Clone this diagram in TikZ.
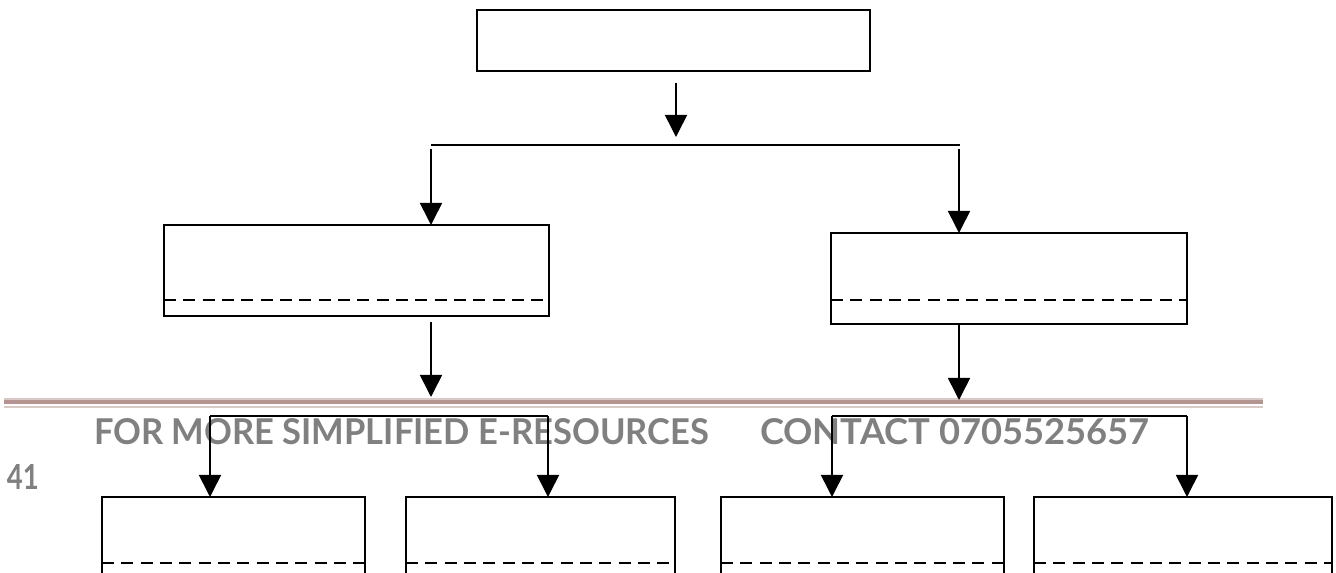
\documentclass[tikz,border=0pt]{standalone}
\usepackage{fontspec}
\usepackage{graphicx}
\usetikzlibrary{arrows.meta}
\newfontfamily\wmfont{Lato}
\definecolor{wmgray}{RGB}{128,128,128}
\definecolor{rulebrown}{RGB}{180,148,144}
\definecolor{rulelight}{RGB}{216,200,198}
\begin{document}
\begin{tikzpicture}[x=0.75pt,y=-0.75pt,
  box/.style={draw=black,line width=1.2pt,rectangle,inner sep=0pt,outer sep=0pt},
  dashline/.style={draw=black,line width=1.2pt,dash pattern=on 9pt off 5.5pt},
  conn/.style={draw=black,line width=1.2pt},
  arr/.style={conn,-{Triangle[width=16.5pt,length=16.5pt]}},
  wm/.style={inner sep=0pt,outer sep=0pt,anchor=south west,text=wmgray}
]
\useasboundingbox (0,0) rectangle (1336,573);
\clip (0,0) rectangle (1336,573);

% watermark / page elements
\fill[rulelight] (4,398.5) rectangle (1263,399.8);
\fill[rulebrown] (4,400) rectangle (1263,404.5);
\fill[rulelight] (4,406) rectangle (1263,407.6);
\node[wm] (wm1) at (94,445) {\resizebox{461.25pt}{19.5pt}{\wmfont\bfseries FOR MORE SIMPLIFIED E-RESOURCES}};
\node[wm] (wm2) at (760,445) {\resizebox{292.5pt}{19.5pt}{\wmfont\bfseries CONTACT 0705525657}};
\node[wm] (pg) at (7,490) {\resizebox{24pt}{18.75pt}{\wmfont\bfseries 41}};

% level 1
\node[box,minimum width=393*0.75pt,minimum height=61*0.75pt] (top) at (673.5,40.5) {};

% level 2
\node[box,minimum width=385*0.75pt,minimum height=91*0.75pt] (L) at (356.5,270.5) {};
\node[box,minimum width=356*0.75pt,minimum height=91*0.75pt] (R) at (1009,278.5) {};
\draw[dashline] (L.west |- 0,300) -- (L.east |- 0,300);
\draw[dashline] (R.west |- 0,300) -- (R.east |- 0,300);

% level 3 (cut off at page bottom)
\node[box,minimum width=263*0.75pt,minimum height=120*0.75pt] (LL) at (233.5,557) {};
\node[box,minimum width=269*0.75pt,minimum height=120*0.75pt] (LR) at (540.5,557) {};
\node[box,minimum width=283*0.75pt,minimum height=120*0.75pt] (RL) at (862.5,557) {};
\node[box,minimum width=298*0.75pt,minimum height=120*0.75pt] (RR) at (1183,557) {};
\foreach \n in {LL,LR,RL,RR}{
  \draw[dashline] (\n.west |- 0,563) -- (\n.east |- 0,563);
}

% connectors level 1 -> 2
\coordinate (j1) at (676,145);
\coordinate (j2) at (431,416);
\coordinate (j3) at (959,416);
\draw[arr] ([yshift=-9pt]top.south -| j1) -- ([yshift=6pt]j1);
\draw[conn] (431,145) -- (960,145);
\draw[arr] (431,149) -- (L.north -| 431,0);
\draw[arr] (959,149) -- (R.north -| 959,0);

% connectors level 2 -> 3
\draw[arr] ([yshift=-4.5pt]L.south -| j2) -- (431,397);
\draw[arr] (R.south -| j3) -- (959,400);

\draw[conn] (210,416) -- (548,416);
\draw[arr] (210,416) -- (LL.north -| 210,0);
\draw[arr] (548,416) -- (LR.north -| 548,0);
\draw[conn] (832,416) -- (1187,416);
\draw[arr] (832,416) -- (RL.north -| 832,0);
\draw[arr] (1187,416) -- (RR.north -| 1187,0);
\end{tikzpicture}
\end{document}
